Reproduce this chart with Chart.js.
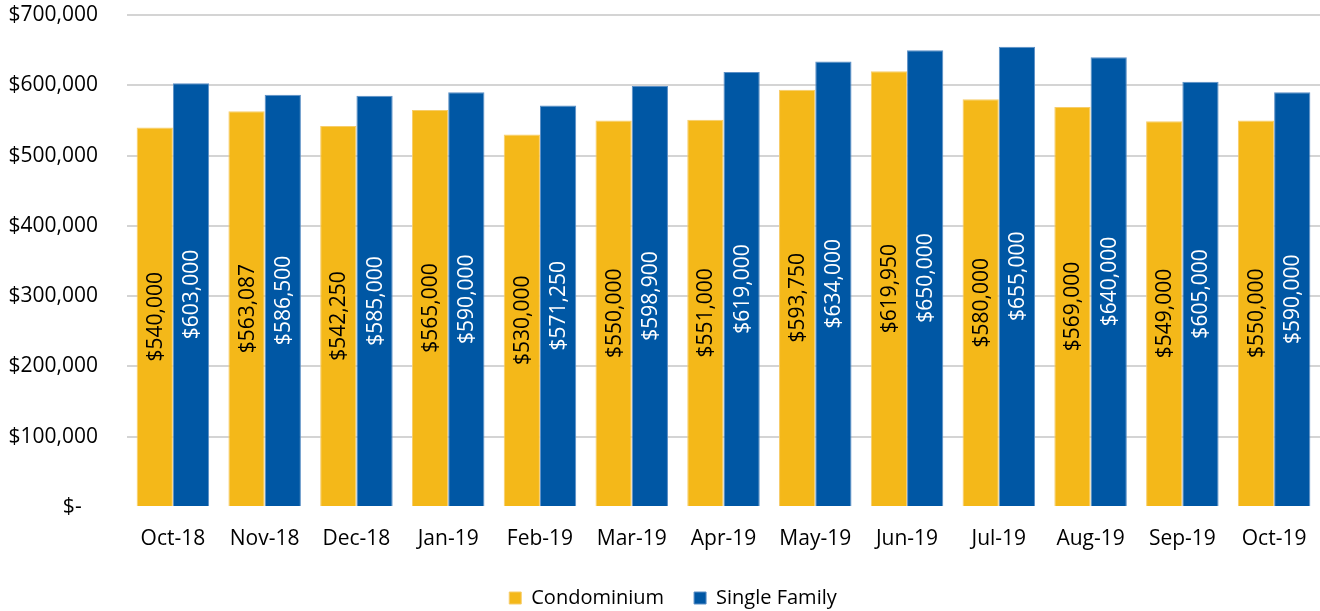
<!DOCTYPE html>
<html>
<head>
<meta charset="utf-8">
<script src="https://cdn.jsdelivr.net/npm/chart.js@4/dist/chart.umd.min.js"></script>
<style>
  html, body { margin: 0; padding: 0; background: #ffffff; }
  #wrap { width: 1320px; height: 611px; position: relative; }
</style>
</head>
<body>
<div id="wrap"><canvas id="c" width="1320" height="611"></canvas></div>
<script>
const categories = ['Oct-18','Nov-18','Dec-18','Jan-19','Feb-19','Mar-19','Apr-19','May-19','Jun-19','Jul-19','Aug-19','Sep-19','Oct-19'];
const condominium = [540000, 563087, 542250, 565000, 530000, 550000, 551000, 593750, 619950, 580000, 569000, 549000, 550000];
const singleFamily = [603000, 586500, 585000, 590000, 571250, 598900, 619000, 634000, 650000, 655000, 640000, 605000, 590000];
const yTicks = [0, 100000, 200000, 300000, 400000, 500000, 600000, 700000];

const FONT = "'Open Sans', 'Noto Sans', sans-serif";
const fmt = v => '$' + Number(v).toLocaleString('en-US');

const barLabels = {
  id: 'barLabels',
  afterDatasetsDraw(chart) {
    const ctx = chart.ctx;
    chart.data.datasets.forEach((ds, di) => {
      const meta = chart.getDatasetMeta(di);
      meta.data.forEach((bar, i) => {
        const cx = bar.x;
        const cy = (bar.y + bar.base) / 2;
        ctx.save();
        ctx.translate(cx, cy);
        ctx.rotate(-Math.PI / 2);
        ctx.font = '21px ' + FONT;
        ctx.fillStyle = ds.labelColor;
        ctx.textAlign = 'center';
        ctx.textBaseline = 'middle';
        ctx.fillText(fmt(ds.data[i]), 0, 1);
        ctx.restore();
      });
    });
  }
};

const legendShift = {
  id: 'legendShift',
  afterLayout(chart) {
    if (chart.legend) { chart.legend.left += 13; chart.legend.right += 13; }
  }
};

new Chart(document.getElementById('c'), {
  type: 'bar',
  data: {
    labels: categories,
    datasets: [
      { label: 'Condominium', data: condominium, backgroundColor: '#F4B819', borderColor: '#F7CD6A', borderWidth: 1, labelColor: '#000000' },
      { label: 'Single Family', data: singleFamily, backgroundColor: '#0057A4', borderColor: '#5B8FC6', borderWidth: 1, labelColor: '#ffffff' }
    ]
  },
  options: {
    responsive: false,
    animation: false,
    devicePixelRatio: 1,
    layout: { padding: { left: 0, right: 0, top: 15, bottom: -7 } },
    datasets: { bar: { categoryPercentage: 0.79, barPercentage: 1.0 } },
    plugins: {
      legend: {
        position: 'bottom',
        labels: {
          font: { family: FONT, size: 20 },
          color: '#000000',
          boxWidth: 12,
          boxHeight: 12,
          padding: 30
        }
      },
      tooltip: { enabled: false }
    },
    scales: {
      x: {
        afterFit(scale) { scale.height = 51; scale.paddingLeft = 0; scale.paddingRight = 0; },
        grid: { display: false, drawTicks: false },
        border: { display: false },
        ticks: { font: { family: FONT, size: 21 }, color: '#000000', padding: 19, maxRotation: 0, autoSkip: false }
      },
      y: {
        min: 0,
        max: 700000,
        afterBuildTicks(scale) { scale.ticks = yTicks.map(v => ({ value: v })); },
        afterFit(scale) { scale.width = 127; scale.paddingTop = 0; scale.paddingBottom = 0; },
        grid: {
          drawTicks: false,
          lineWidth: 2,
          color: ctx => (ctx.tick && ctx.tick.value === 0) ? 'rgba(0,0,0,0)' : '#D4D4D4'
        },
        border: { display: false },
        ticks: {
          font: { family: FONT, size: 21 },
          color: '#000000',
          padding: 29,
          callback: v => v === 0 ? '$-   ' : fmt(v)
        }
      }
    }
  },
  plugins: [barLabels, legendShift]
});
</script>
</body>
</html>
